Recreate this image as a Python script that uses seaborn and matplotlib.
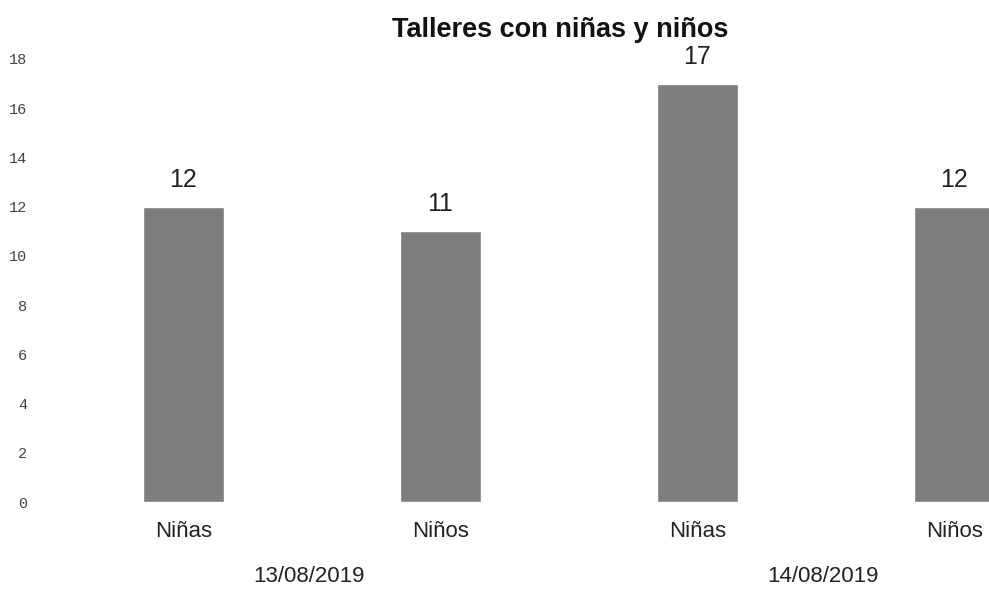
import pandas as pd
import matplotlib
matplotlib.use("Agg")
import matplotlib.pyplot as plt
import seaborn as sns

# values
categories = ["Niñas 13", "Niños 13", "Niñas 14", "Niños 14"]
tick_labels = ["Niñas", "Niños", "Niñas", "Niños"]
values = [12, 11, 17, 12]
dates = ["13/08/2019", "14/08/2019"]
yticks = [0, 2, 4, 6, 8, 10, 12, 14, 16, 18]

df = pd.DataFrame({"cat": categories, "n": values})

sns.set_style("white")
plt.rcParams["font.family"] = ["Liberation Sans", "DejaVu Sans"]

fig = plt.figure(figsize=(9.89, 5.94), dpi=100)
# axes spill past the right edge, like the cropped scan
ax = fig.add_axes([55 / 989, 92 / 594, 1028 / 989, 443 / 594])

sns.barplot(data=df, x="cat", y="n", color="#7d7d7d", width=0.315,
            saturation=1, ax=ax)

ax.set_ylim(0, 18)
ax.set_yticks(yticks)
ax.set_yticklabels([str(t) for t in yticks], fontsize=11, color="#444444",
                   family="Liberation Mono")
ax.tick_params(axis="y", length=0, pad=20)
ax.set_xticks(range(len(tick_labels)))
ax.set_xticklabels(tick_labels, fontsize=16, color="#222222")
ax.tick_params(axis="x", length=0, pad=14)
ax.set_xlabel("")
ax.set_ylabel("")
sns.despine(ax=ax, left=True, bottom=True)

# value labels above the bars
for i, v in enumerate(values):
    ax.annotate(str(v), (i, v), xytext=(0, 27), textcoords="offset pixels",
                ha="center", va="center", fontsize=18, color="#222222")

# group (date) labels under the pairs
for j, d in enumerate(dates):
    ax.annotate(d, (2 * j + 0.5, 0), xytext=(-3, -75), textcoords="offset pixels",
                ha="center", va="center", fontsize=16, color="#222222",
                annotation_clip=False)

fig.text(560 / 989, 1 - 30 / 594, "Talleres con niñas y niños",
         ha="center", va="center", fontsize=19.5, fontweight="bold",
         color="#111111")

fig.savefig("out.png", dpi=100)
